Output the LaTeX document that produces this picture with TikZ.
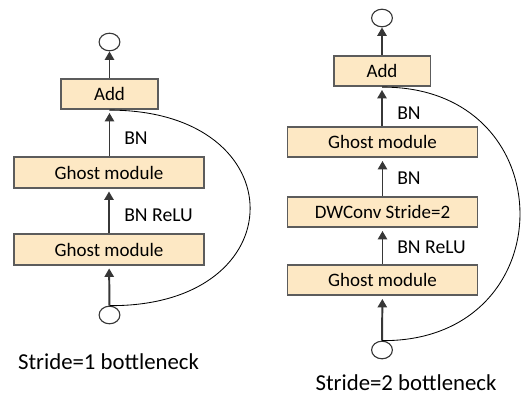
\documentclass[tikz,border=0pt]{standalone}
\usepackage{fontspec}
\setmainfont{Carlito}
\usetikzlibrary{arrows.meta,shapes.geometric}
\definecolor{boxfill}{RGB}{253,232,196}
\definecolor{boxline}{RGB}{92,92,92}
\definecolor{stem}{RGB}{55,55,55}
\tikzset{
  block/.style={draw=boxline, line width=1.3pt, fill=boxfill, minimum width=4.75cm,
    minimum height=0.76cm, inner sep=0pt, font=\fontsize{13.5}{15}\selectfont},
  addblock/.style={block, minimum width=2.42cm},
  port/.style={draw=stem, ellipse, line width=0.8pt, minimum width=0.52cm,
    minimum height=0.44cm, inner sep=0pt},
  flow/.style={draw=stem, line width=1.4pt, -{Triangle[width=6.5pt,length=6pt]}},
  skip/.style={draw=black, line width=0.6pt},
  lbl/.style={anchor=west, inner sep=0pt, font=\fontsize{14}{16}\selectfont},
  caption/.style={inner sep=0pt, font=\fontsize{16.2}{18}\selectfont}
}
\newcommand{\flowup}[2]{\draw[flow, shorten >=2pt] (#1) -- (#2);}
\begin{document}
\begin{tikzpicture}[x=0.025cm, y=-0.025cm]
\useasboundingbox (0,0) rectangle (521,396);
% stride 1
\node[port] (outL) at (109.5,42) {};
\node[addblock] (addL) at (109.5,94) {Add};
\node[block] (ghostLa) at (109,172.5) {Ghost module};
\node[block] (ghostLb) at (109,249.5) {Ghost module};
\node[port] (inL) at (109.5,315) {};
\draw[flow] (addL.north) -- (outL.south);
\flowup{ghostLa.north -| addL.south}{addL.south}
\flowup{ghostLb}{ghostLa}
\flowup{inL}{ghostLb}
\draw[skip] (addL.south) .. controls (297,110) and (297,307) .. (inL.north);
\node[lbl] (bnL) at (124,138) {BN};
\node[lbl] (reluL) at (124,215) {BN ReLU};
\node[caption] (capL) at (108.5,362) {Stride=1 bottleneck};
% stride 2
\node[port] (outR) at (382,18) {};
\node[addblock] (addR) at (382,71) {Add};
\node[block] (ghostRa) at (382.5,142) {Ghost module};
\node[block] (dwR) at (382.5,212) {DWConv Stride=2};
\node[block] (ghostRb) at (382.5,280) {Ghost module};
\node[port] (inR) at (382,350) {};
\draw[flow] (addR.north) -- (outR.south);
\flowup{ghostRa.north -| addR.south}{addR.south}
\flowup{dwR}{ghostRa}
\flowup{ghostRb}{dwR}
\flowup{inR}{ghostRb}
\draw[skip] (addR.south) .. controls (566,86) and (566,342) .. (inR.north);
\node[lbl] (bnRa) at (397,113) {BN};
\node[lbl] (bnRb) at (397,178) {BN};
\node[lbl] (reluR) at (397,247) {BN ReLU};
\node[caption] (capR) at (406,383) {Stride=2 bottleneck};
\end{tikzpicture}
\end{document}
